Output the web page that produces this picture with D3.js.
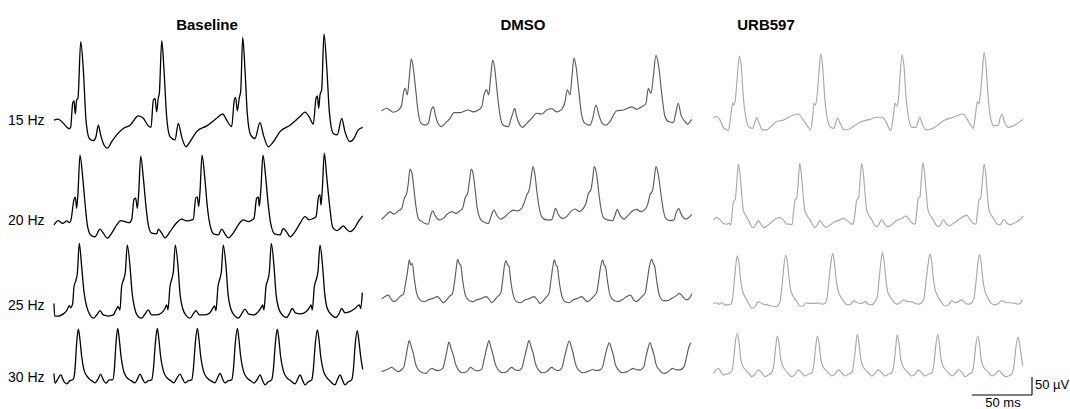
<!DOCTYPE html>
<html><head><meta charset="utf-8">
<script src="https://cdn.jsdelivr.net/npm/d3@7"></script>
<style>body{margin:0;background:#fff}svg{display:block}</style>
</head><body><svg id="c" width="1070" height="409"></svg>
<script>
const conditions = ["Baseline", "DMSO", "URB597"];
const frequencies = ["15 Hz", "20 Hz", "25 Hz", "30 Hz"];
const scaleBarMs = 50, scaleBarUv = 50;

// traces: [time (ms), potential (µV)]
const base15 = [[3.3,83],[6.9,86],[11.1,74],[16.1,59],[17.2,63],[18.9,130],[20.0,137],[21.1,100],[22.2,139],[23.3,144],[25.6,301],[27.8,222],[30.0,83],[32.8,32],[36.1,26],[38.3,37],[40.3,69],[42.2,42],[45.0,14],[47.8,5],[51.4,23],[55.6,42],[61.1,60],[66.7,69],[73.6,95],[77.8,88],[81.9,67],[84.2,63],[86.1,139],[87.5,143],[88.9,106],[90.3,146],[91.1,157],[93.1,304],[95.0,222],[97.2,93],[100.0,37],[104.2,28],[106.9,74],[109.7,37],[113.3,9],[116.7,23],[122.2,51],[130.6,67],[138.9,88],[143.9,100],[147.2,83],[151.4,65],[153.6,139],[154.7,146],[156.1,109],[157.8,146],[158.9,162],[160.6,313],[162.5,222],[164.4,102],[167.2,42],[170.8,32],[175.0,76],[177.8,42],[181.9,9],[186.1,23],[191.7,51],[200.0,69],[208.3,93],[212.5,105],[216.1,91],[219.4,72],[221.7,144],[222.8,150],[223.9,116],[225.0,153],[226.4,167],[228.3,322],[230.6,232],[232.8,106],[236.1,46],[239.4,42],[243.1,88],[245.8,51],[250.0,23],[253.3,32],[256.9,56],[260.6,63]];
const base20 = [[3.3,42],[6.9,54],[10.6,46],[13.9,53],[16.1,48],[17.5,56],[20.0,113],[21.1,119],[22.2,88],[23.3,130],[25.0,236],[27.2,176],[29.2,102],[31.1,42],[33.9,14],[37.5,9],[41.7,30],[44.4,19],[47.8,5],[51.4,19],[55.6,42],[58.9,54],[62.5,51],[66.1,48],[68.1,57],[70.0,113],[71.4,116],[72.8,88],[73.9,130],[75.6,233],[77.8,171],[80.0,93],[81.9,42],[84.7,19],[88.9,17],[90.3,30],[93.1,19],[95.8,6],[100.0,23],[105.0,46],[109.7,58],[113.9,53],[118.1,56],[119.4,57],[121.4,116],[122.8,120],[123.9,93],[125.0,134],[126.7,236],[128.9,176],[131.1,93],[133.3,42],[136.7,16],[140.3,14],[143.1,30],[145.8,17],[148.6,6],[152.8,20],[156.9,42],[161.1,56],[165.3,51],[168.6,56],[170.0,60],[172.2,116],[173.6,119],[174.4,94],[175.6,134],[177.5,236],[179.7,176],[181.9,97],[183.9,46],[187.5,16],[191.7,14],[194.4,32],[197.8,19],[200.0,9],[204.2,23],[208.3,46],[212.5,65],[216.1,56],[219.4,60],[221.7,65],[223.9,122],[225.0,125],[225.8,97],[226.9,139],[228.6,241],[230.6,176],[232.8,102],[235.6,35],[238.9,26],[241.1,30],[244.4,39],[247.2,30],[250.0,23],[254.2,35],[256.9,51],[260.6,67]];
const base25 = [[3.3,46],[3.9,11],[6.9,11],[11.1,17],[13.9,26],[16.1,40],[17.2,34],[18.9,46],[20.0,93],[21.7,111],[22.8,130],[24.4,213],[26.4,148],[28.3,79],[30.6,37],[33.3,14],[36.1,5],[38.9,14],[41.7,26],[44.4,14],[48.6,11],[52.8,14],[55.0,28],[56.7,37],[58.3,28],[59.7,93],[61.7,116],[62.8,134],[64.4,208],[66.7,148],[68.3,79],[70.6,32],[73.6,9],[76.4,5],[79.2,17],[81.9,28],[84.7,14],[88.9,14],[93.1,20],[95.8,32],[97.2,42],[98.3,28],[100.0,93],[101.7,116],[102.8,134],[104.4,208],[106.7,148],[108.3,74],[110.6,32],[113.9,11],[116.7,5],[119.4,17],[121.7,26],[124.4,14],[129.2,14],[133.3,20],[136.1,35],[137.2,39],[138.3,26],[140.0,93],[141.7,116],[142.8,134],[144.4,208],[146.7,148],[148.3,74],[150.6,32],[154.2,11],[156.9,5],[159.7,17],[162.5,30],[165.3,17],[169.4,14],[173.6,23],[176.4,37],[177.2,42],[178.3,28],[180.0,93],[181.9,116],[182.8,134],[184.4,213],[186.7,148],[188.3,74],[190.6,32],[194.4,11],[197.2,7],[199.4,17],[201.9,32],[204.7,19],[208.9,17],[213.3,23],[216.7,37],[217.5,42],[218.6,28],[220.3,93],[222.2,116],[223.3,134],[225.0,208],[227.2,148],[228.9,74],[231.1,32],[234.7,14],[238.3,7],[241.1,19],[243.1,32],[245.8,20],[250.0,23],[254.2,32],[257.8,42],[258.9,32],[260.3,76]];
const base30 = [[3.3,46],[4.2,19],[6.1,28],[8.9,42],[11.7,23],[13.9,17],[16.7,26],[19.4,30],[20.8,56],[22.2,130],[23.6,169],[25.0,139],[26.4,93],[28.3,56],[31.1,37],[34.7,26],[37.5,20],[40.3,32],[42.2,44],[44.4,28],[46.7,19],[49.4,28],[52.2,28],[53.6,56],[55.0,130],[56.4,171],[57.8,139],[59.2,93],[61.1,56],[63.9,35],[67.5,26],[70.8,20],[72.8,30],[75.0,44],[77.2,30],[79.2,20],[81.9,26],[84.7,28],[86.1,56],[87.8,130],[89.4,171],[90.8,139],[92.2,93],[94.4,54],[97.2,35],[100.6,26],[103.3,20],[105.6,32],[108.3,44],[110.6,30],[112.5,20],[115.3,26],[118.1,28],[119.4,56],[121.1,130],[122.8,171],[124.2,139],[125.6,93],[127.8,54],[130.6,35],[133.9,26],[137.5,20],[139.4,32],[141.7,46],[143.9,30],[145.8,20],[148.6,26],[151.4,28],[152.8,56],[154.4,130],[156.1,171],[157.5,139],[158.9,93],[161.1,54],[163.9,35],[167.2,26],[170.0,19],[172.8,30],[175.0,42],[177.2,26],[179.2,14],[181.9,23],[184.7,28],[186.1,56],[187.8,130],[189.4,169],[190.8,139],[192.2,93],[194.4,54],[197.2,35],[200.6,26],[204.2,17],[206.1,28],[208.3,42],[210.6,26],[212.5,14],[215.3,23],[218.1,28],[219.4,56],[221.1,130],[222.8,167],[224.2,139],[225.6,93],[227.8,54],[230.6,35],[233.9,23],[237.5,14],[239.4,28],[241.7,42],[243.9,26],[245.8,14],[248.6,23],[251.4,28],[252.8,56],[254.4,130],[256.1,165],[257.5,134],[258.9,93],[260.6,57]];
const dmso15 = [[9.7,109],[13.9,116],[19.4,105],[24.4,113],[26.4,125],[27.8,157],[29.4,171],[31.1,153],[32.8,204],[34.4,253],[36.1,227],[38.1,167],[40.3,102],[42.2,76],[45.8,69],[48.6,74],[50.6,106],[52.8,120],[54.7,93],[56.9,72],[59.2,65],[62.5,74],[66.7,88],[70.0,104],[75.0,104],[81.9,111],[86.1,106],[90.3,111],[93.1,120],[95.0,153],[97.2,167],[98.9,153],[100.6,204],[102.2,250],[103.9,227],[105.8,167],[108.3,97],[111.1,69],[115.3,65],[117.2,83],[119.4,106],[120.6,116],[122.2,93],[125.0,69],[127.2,63],[130.6,74],[134.7,88],[138.9,102],[143.1,100],[147.2,111],[151.4,115],[155.6,106],[159.7,113],[162.5,134],[164.4,167],[166.7,153],[168.3,204],[170.0,255],[171.7,232],[173.9,167],[176.4,97],[179.2,74],[183.3,69],[185.6,88],[188.3,125],[191.1,93],[193.6,74],[196.4,69],[200.0,79],[205.6,109],[211.1,111],[218.1,120],[222.2,113],[226.4,120],[230.0,130],[231.9,171],[234.2,157],[236.1,204],[238.3,263],[240.6,232],[243.1,157],[245.8,93],[248.6,79],[252.8,76],[255.0,106],[256.9,130],[259.2,97],[262.5,79],[264.4,72],[268.1,85]];
const dmso20 = [[9.7,57],[13.3,69],[16.7,78],[20.0,72],[23.6,81],[26.4,88],[28.3,113],[30.6,130],[31.9,157],[33.3,197],[35.0,185],[36.7,139],[38.3,93],[40.3,60],[43.1,51],[45.8,46],[48.6,44],[50.6,69],[52.2,81],[54.4,67],[57.8,56],[61.1,60],[64.4,72],[68.1,79],[71.7,74],[75.0,81],[77.2,88],[79.2,116],[81.4,130],[82.8,162],[84.4,197],[86.1,181],[87.8,134],[89.4,88],[91.7,60],[94.4,51],[98.6,46],[100.8,65],[103.3,83],[105.6,69],[108.9,58],[112.5,65],[116.1,76],[119.4,83],[122.8,81],[126.4,88],[128.3,102],[130.6,125],[132.8,141],[134.2,171],[135.8,204],[137.5,181],[138.9,139],[140.8,93],[143.1,65],[146.7,56],[151.4,56],[152.8,69],[154.7,88],[156.9,71],[160.6,60],[163.9,65],[167.2,79],[170.8,86],[174.4,79],[177.8,88],[180.0,102],[181.9,128],[184.2,141],[185.6,171],[186.9,204],[188.9,181],[190.6,134],[192.2,93],[194.4,63],[197.8,56],[202.2,54],[204.2,69],[206.1,85],[208.3,69],[211.7,58],[215.3,69],[218.9,81],[222.2,85],[225.6,79],[229.2,85],[231.4,99],[233.3,125],[235.6,139],[236.9,171],[238.3,204],[240.3,181],[242.2,134],[243.9,93],[246.4,60],[250.0,54],[253.3,56],[255.0,74],[257.2,87],[259.7,69],[263.3,58],[268.1,71]];
const dmso25 = [[9.7,58],[12.5,65],[15.3,69],[17.2,60],[20.0,51],[22.8,57],[25.6,67],[27.8,71],[29.4,97],[31.1,130],[32.8,167],[33.9,153],[35.3,157],[36.7,120],[38.9,74],[41.7,56],[45.0,51],[48.6,56],[52.8,60],[56.1,65],[58.9,56],[61.1,48],[63.9,56],[66.7,67],[68.6,72],[70.3,102],[71.7,139],[73.1,169],[74.4,157],[75.6,153],[77.2,111],[79.2,72],[81.9,56],[85.6,51],[88.9,56],[93.1,60],[96.7,65],[99.4,57],[101.4,48],[104.2,57],[106.9,67],[108.9,74],[110.6,111],[111.9,148],[113.3,165],[114.7,153],[115.8,150],[117.2,111],[119.4,69],[122.2,51],[125.6,48],[129.2,56],[133.3,60],[136.7,65],[139.4,56],[141.7,46],[144.4,54],[147.2,65],[149.2,74],[150.8,111],[152.2,144],[153.6,167],[155.0,153],[156.1,148],[157.5,111],[159.7,69],[162.5,51],[166.1,48],[169.4,56],[172.8,60],[176.4,65],[179.2,56],[181.1,51],[183.9,57],[186.7,67],[188.9,76],[190.6,111],[192.2,148],[193.9,167],[195.0,153],[196.1,150],[197.8,111],[200.0,69],[203.3,54],[206.9,51],[210.6,57],[213.9,65],[217.2,69],[219.4,57],[221.7,51],[224.4,57],[227.2,67],[229.4,76],[231.1,111],[232.8,148],[234.7,169],[236.1,156],[237.2,150],[238.9,109],[241.1,69],[244.4,54],[247.8,54],[251.4,60],[255.0,67],[257.8,74],[260.6,65],[263.9,56],[266.7,63],[268.1,72]];
const dmso30 = [[9.7,51],[13.9,56],[18.1,63],[20.8,56],[23.6,51],[26.4,57],[28.3,65],[30.0,93],[31.4,120],[32.8,137],[34.4,120],[36.1,102],[37.8,74],[40.3,56],[43.9,48],[46.7,46],[49.4,56],[51.7,60],[54.2,56],[56.9,54],[60.6,60],[62.5,83],[64.2,111],[65.8,133],[67.5,116],[69.4,97],[71.1,74],[73.6,56],[77.2,48],[80.6,51],[83.9,63],[86.7,56],[89.4,53],[93.1,58],[95.0,83],[97.2,116],[99.2,137],[100.6,120],[102.2,102],[104.2,74],[106.9,56],[110.6,48],[113.9,51],[118.1,63],[120.8,56],[123.6,54],[126.4,60],[128.6,88],[130.6,116],[132.5,137],[134.2,120],[136.1,100],[137.8,74],[140.3,56],[143.9,48],[147.2,51],[151.4,63],[154.2,56],[156.9,54],[159.7,60],[161.9,88],[163.9,116],[166.1,136],[167.8,120],[169.4,100],[171.1,74],[173.6,56],[177.8,48],[181.1,51],[185.6,57],[188.3,54],[191.7,56],[193.9,65],[195.8,93],[197.8,119],[199.4,131],[201.1,116],[202.8,97],[204.4,72],[206.9,56],[210.6,48],[214.4,51],[219.4,60],[222.2,56],[225.6,56],[228.3,65],[230.0,93],[231.7,116],[233.3,132],[235.0,116],[236.7,97],[238.3,72],[241.1,56],[245.0,46],[248.6,51],[252.2,60],[255.0,56],[258.3,56],[261.7,65],[263.9,93],[265.8,120],[267.5,131]];
const urb15 = [[11.1,91],[13.9,93],[16.7,83],[19.4,63],[23.6,54],[25.6,93],[27.2,131],[28.3,125],[29.4,139],[31.1,204],[32.8,261],[34.4,232],[36.1,148],[38.3,88],[41.1,63],[43.9,60],[45.8,79],[47.2,90],[49.2,74],[52.2,56],[55.6,56],[59.7,67],[63.9,79],[69.4,83],[75.0,93],[81.9,100],[86.1,83],[90.3,63],[92.2,56],[93.9,93],[95.0,130],[96.1,125],[97.2,139],[98.9,204],[100.6,267],[102.2,232],[103.9,148],[106.1,88],[108.9,63],[111.7,60],[113.3,79],[115.0,88],[116.7,74],[120.0,56],[123.6,57],[129.2,69],[134.7,79],[141.7,85],[147.2,91],[152.2,91],[155.6,74],[158.9,54],[161.1,93],[162.5,130],[163.9,122],[165.3,139],[166.7,204],[168.3,264],[170.0,232],[171.7,148],[173.9,88],[176.7,63],[180.0,63],[181.7,79],[183.3,91],[185.0,74],[188.3,56],[191.7,57],[197.2,67],[202.8,81],[211.1,91],[219.4,100],[222.2,88],[225.6,69],[227.8,60],[229.4,93],[231.1,134],[232.2,128],[233.3,144],[235.0,204],[236.7,271],[238.3,236],[240.0,153],[242.2,88],[245.0,67],[248.6,69],[250.0,88],[251.7,100],[253.6,79],[256.9,63],[261.1,67],[265.3,76],[269.4,85]];
const urb20 = [[11.1,56],[13.9,63],[16.7,56],[19.4,46],[22.2,44],[24.4,46],[25.6,42],[26.7,69],[27.8,106],[29.4,113],[30.6,157],[31.9,211],[33.3,185],[34.7,130],[36.1,83],[38.3,67],[40.3,56],[42.2,42],[43.9,34],[45.8,39],[48.6,54],[50.6,44],[53.3,35],[56.9,42],[61.1,54],[66.1,63],[69.4,56],[72.2,44],[75.0,44],[76.7,42],[77.8,74],[79.2,111],[80.6,116],[81.9,162],[83.1,213],[84.4,185],[85.8,130],[87.2,83],[89.4,67],[91.7,56],[93.9,42],[95.8,35],[97.8,42],[100.0,54],[102.2,44],[105.0,35],[108.3,42],[112.5,51],[116.7,56],[120.0,60],[123.6,51],[126.4,44],[127.8,46],[129.2,74],[130.6,111],[132.2,116],[133.3,162],[134.7,213],[136.1,185],[137.5,130],[138.9,83],[141.1,67],[143.1,56],[145.3,42],[147.2,37],[149.2,44],[151.4,57],[153.6,46],[156.4,37],[159.7,42],[163.9,54],[168.1,60],[171.7,67],[174.4,56],[177.2,46],[179.2,44],[180.6,79],[181.9,116],[183.3,120],[184.4,167],[185.8,215],[187.2,185],[188.6,130],[190.0,83],[192.2,67],[194.4,56],[196.7,42],[198.6,37],[200.6,44],[202.8,57],[205.0,46],[207.8,39],[211.1,46],[215.3,56],[219.4,65],[222.2,69],[225.0,57],[227.8,46],[230.0,44],[231.1,74],[232.5,111],[233.9,116],[235.3,162],[236.7,211],[238.1,185],[239.4,130],[240.8,83],[243.1,67],[245.3,56],[247.8,44],[250.0,42],[251.4,48],[253.3,57],[255.6,48],[258.3,42],[262.5,48],[266.7,57],[269.4,67]];
const urb25 = [[11.1,46],[13.9,48],[16.1,44],[18.1,48],[20.8,42],[23.6,42],[25.6,44],[27.2,60],[28.9,120],[30.0,157],[31.1,178],[32.5,157],[33.9,111],[35.6,79],[37.5,65],[40.3,48],[43.1,32],[45.8,37],[48.6,51],[51.4,46],[55.6,42],[59.7,39],[63.3,37],[65.3,42],[66.7,51],[68.6,102],[70.0,153],[71.4,180],[72.8,162],[74.2,116],[75.6,83],[77.8,65],[80.6,51],[83.3,39],[86.1,39],[88.3,48],[91.7,46],[95.8,46],[99.4,48],[101.4,44],[104.2,46],[105.6,56],[107.2,102],[108.9,153],[110.6,185],[111.9,162],[113.3,116],[115.0,83],[117.2,65],[120.0,51],[122.8,42],[125.6,44],[128.3,54],[131.1,48],[134.7,46],[137.5,51],[140.3,44],[143.1,42],[145.8,51],[147.8,65],[149.2,111],[150.6,157],[151.9,187],[153.3,167],[154.7,120],[156.1,83],[158.3,65],[161.1,51],[163.9,44],[166.7,48],[170.0,56],[172.8,51],[175.6,51],[179.2,46],[181.9,44],[184.7,48],[186.7,60],[188.3,106],[190.0,153],[191.7,183],[193.1,162],[194.4,116],[196.1,83],[198.3,65],[201.4,48],[204.2,39],[206.9,42],[209.7,54],[212.5,48],[215.3,51],[218.1,56],[220.8,48],[223.6,44],[226.4,48],[228.3,60],[230.0,106],[231.4,153],[232.8,182],[234.2,162],[235.6,116],[237.2,83],[239.4,65],[242.2,48],[245.0,42],[248.6,46],[251.4,54],[255.0,48],[258.3,48],[262.5,46],[265.3,44],[267.2,48],[268.6,57]];
const urb30 = [[11.1,46],[13.3,56],[15.3,60],[17.2,51],[19.4,42],[22.2,44],[25.0,48],[26.9,56],[28.3,93],[29.7,139],[31.1,157],[32.5,134],[33.9,88],[35.6,67],[37.5,57],[40.3,48],[43.1,37],[45.8,44],[48.6,56],[51.4,48],[54.2,37],[56.9,42],[59.7,48],[61.7,74],[63.1,120],[64.4,150],[65.8,130],[67.2,88],[68.9,67],[70.8,57],[73.6,46],[76.4,37],[79.2,44],[81.9,56],[84.7,48],[87.5,39],[90.3,44],[93.1,48],[95.0,74],[96.4,120],[97.8,150],[99.2,130],[100.6,88],[102.2,67],[104.2,57],[106.9,48],[109.7,39],[112.5,44],[115.3,56],[118.1,48],[120.8,39],[123.6,44],[126.4,48],[128.3,79],[129.7,120],[131.1,155],[132.5,130],[133.9,88],[135.6,67],[137.5,57],[140.3,48],[143.1,39],[145.8,46],[148.6,56],[151.4,48],[154.2,39],[156.9,44],[159.7,48],[161.7,74],[163.1,120],[164.4,153],[165.8,130],[167.2,88],[168.9,67],[170.8,57],[173.6,48],[176.4,39],[179.2,44],[181.9,56],[184.7,48],[187.5,39],[190.3,44],[193.1,48],[195.0,74],[196.4,120],[198.1,155],[199.4,130],[200.8,88],[202.5,67],[204.4,57],[207.2,48],[210.0,39],[212.8,46],[215.6,57],[218.3,48],[221.1,37],[223.9,44],[226.4,48],[228.3,74],[229.7,120],[231.4,150],[232.8,130],[234.2,88],[235.8,67],[237.8,57],[240.6,48],[243.3,39],[246.1,44],[248.9,54],[251.7,46],[254.4,37],[257.2,39],[259.7,44],[261.7,69],[263.3,120],[265.0,146],[266.4,125],[267.8,93],[268.9,67]];

const traces = [
  [base15, dmso15, urb15],
  [base20, dmso20, urb20],
  [base25, dmso25, urb25],
  [base30, dmso30, urb30]
];

const W = 1070, H = 409;
const svg = d3.select("#c");
const font = "'Liberation Sans', Arial, Helvetica, sans-serif";
const colors = ["#000000", "#5c5c5c", "#a9a9a9"];
const widths = [1.3, 1.15, 1.15];
const panelLeft = [50, 370, 700];
const rowZero = [150, 240, 320, 390];
const pxPerMs = 1.2, pxPerUv = 0.36;
const tMax = 275, vMax = 330;

function xScale(p) {
  return d3.scaleLinear().domain([0, tMax]).range([panelLeft[p], panelLeft[p] + tMax * pxPerMs]);
}
function yScale(r) {
  return d3.scaleLinear().domain([0, vMax]).range([rowZero[r], rowZero[r] - vMax * pxPerUv]);
}

traces.forEach((row, r) => {
  const y = yScale(r);
  row.forEach((data, p) => {
    const x = xScale(p);
    const line = d3.line().x(d => x(d[0])).y(d => y(d[1])).curve(d3.curveMonotoneX);
    svg.append("path").attr("d", line(data))
      .attr("fill", "none").attr("stroke", colors[p])
      .attr("stroke-width", widths[p]).attr("stroke-linejoin", "round");
  });
});

// titles
const titleX = [207, 523, 766];
conditions.forEach((c, i) => {
  svg.append("text").text(c).attr("x", titleX[i]).attr("y", 30)
    .attr("text-anchor", "middle").attr("font-family", font)
    .attr("font-weight", "bold").attr("font-size", 15).attr("fill", "#000");
});

// row labels
const labelY = [125, 225, 310, 382];
frequencies.forEach((f, i) => {
  svg.append("text").text(f).attr("x", 8).attr("y", labelY[i])
    .attr("font-family", font).attr("font-size", 14).attr("fill", "#000");
});

// scale bar
const sbx = d3.scaleLinear().domain([0, scaleBarMs]).range([972, 972 + scaleBarMs * pxPerMs]);
const sby = d3.scaleLinear().domain([0, scaleBarUv]).range([395, 395 - scaleBarUv * pxPerUv]);
const g = svg.append("g").attr("stroke", "#000").attr("stroke-width", 1.1);
g.append("line").attr("x1", sbx(0)).attr("x2", sbx(scaleBarMs)).attr("y1", sby(0)).attr("y2", sby(0));
g.append("line").attr("x1", sbx(scaleBarMs)).attr("x2", sbx(scaleBarMs)).attr("y1", sby(0)).attr("y2", sby(scaleBarUv));
svg.append("text").text(scaleBarUv + " µV").attr("x", sbx(scaleBarMs) + 3).attr("y", 389)
  .attr("font-family", font).attr("font-size", 13).attr("fill", "#000");
svg.append("text").text(scaleBarMs + " ms").attr("x", (sbx(0) + sbx(scaleBarMs)) / 2 + 1).attr("y", 407)
  .attr("text-anchor", "middle").attr("font-family", font).attr("font-size", 13).attr("fill", "#000");
</script></body></html>
